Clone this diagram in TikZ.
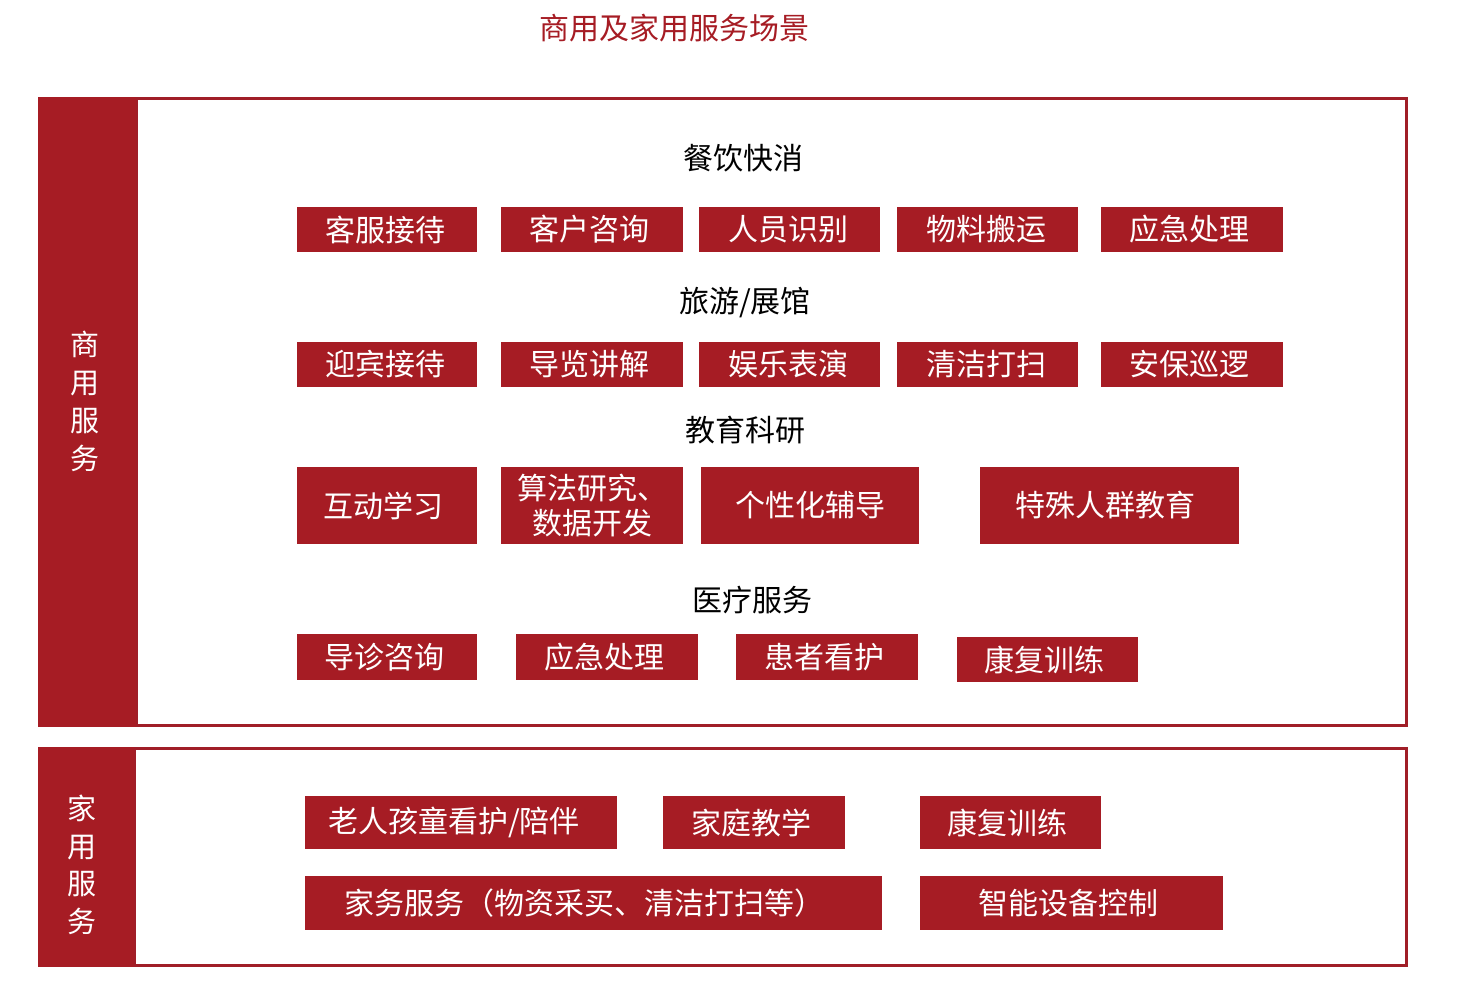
\documentclass[tikz,border=0pt]{standalone}
\usepackage{fontspec}
\setmainfont{Noto Sans CJK SC}
\definecolor{cr}{RGB}{166,28,36}
\definecolor{frm}{RGB}{160,30,40}
\newcommand\fsz{\fontsize{30}{35}\selectfont}
\begin{document}
\begin{tikzpicture}[x=1pt,y=-1pt,
  rbox/.style={fill=cr, text=white, inner sep=0pt, font=\fsz, align=center},
  hdr/.style={font=\fsz, text=black, inner sep=0pt},
  vlbl/.style={font=\fontsize{29}{35}\selectfont, text=white, align=center, inner sep=0pt},
  frame/.style={draw=frm, line width=3pt},
  bar/.style={fill=cr, draw=none}]
\useasboundingbox (0,0) rectangle (1472,993);
% title
\node[font=\fsz, text=cr, inner sep=0pt] (title) at (674,28) {商用及家用服务场景};
% commercial panel
\draw[frame] (136,98) rectangle (1406,725);
\fill[bar] (38,97) rectangle (136,726.5);
\node[vlbl] (lblc) at (85,401) {商\\[3pt]用\\[3pt]服\\[3pt]务};
% home panel
\draw[frame] (134,748) rectangle (1406,965);
\fill[bar] (38,746.5) rectangle (134,966.5);
\node[vlbl] (lblh) at (82,865) {家\\[2.5pt]用\\[2.5pt]服\\[2.5pt]务};
% headers
\node[hdr] (h1) at (743,158) {餐饮快消};
\node[hdr] (h2) at (745,303) {旅游/展馆};
\node[hdr] (h3) at (745,430) {教育科研};
\node[hdr] (h4) at (752,600) {医疗服务};
% row 1
\node[rbox, minimum width=180, minimum height=45] (a1) at (387,229.5) {客服接待\hspace{3pt}};
\node[rbox, minimum width=182, minimum height=45] (a2) at (592,229.5) {客户咨询\hspace{6pt}};
\node[rbox, minimum width=181, minimum height=45] (a3) at (789.5,229.5) {人员识别\hspace{3pt}};
\node[rbox, minimum width=181, minimum height=45] (a4) at (987.5,229.5) {物料搬运\hspace{3pt}};
\node[rbox, minimum width=182, minimum height=45] (a5) at (1192,229.5) {应急处理\hspace{6pt}};
% row 2
\node[rbox, minimum width=180, minimum height=45] (b1) at (387,364.5) {迎宾接待\hspace{3pt}};
\node[rbox, minimum width=182, minimum height=45] (b2) at (592,364.5) {导览讲解\hspace{6pt}};
\node[rbox, minimum width=181, minimum height=45] (b3) at (789.5,364.5) {娱乐表演\hspace{3pt}};
\node[rbox, minimum width=181, minimum height=45] (b4) at (987.5,364.5) {清洁打扫\hspace{3pt}};
\node[rbox, minimum width=182, minimum height=45] (b5) at (1192,364.5) {安保巡逻\hspace{6pt}};
% row 3
\node[rbox, minimum width=180, minimum height=77] (c1) at (387,505.5) {互动学习\hspace{8pt}};
\node[rbox, minimum width=182, minimum height=77] (c2) at (592,505.5) {算法研究、\\数据开发\hspace{10pt}};
\node[rbox, minimum width=218, minimum height=77] (c3) at (810,505.5) {个性化辅导};
\node[rbox, minimum width=259, minimum height=77] (c4) at (1109.5,505.5) {特殊人群教育\hspace{8pt}};
% row 4
\node[rbox, minimum width=180, minimum height=46] (d1) at (387,657) {导诊咨询\hspace{6pt}};
\node[rbox, minimum width=182, minimum height=46] (d2) at (607,657) {应急处理\hspace{6pt}};
\node[rbox, minimum width=182, minimum height=46] (d3) at (827,657) {患者看护\hspace{6pt}};
\node[rbox, minimum width=181, minimum height=45] (d4) at (1047.5,659.5) {康复训练\hspace{6pt}};
% home
\node[rbox, minimum width=312, minimum height=53] (e1) at (461,822.5) {老人孩童看护/陪伴\hspace{14pt}};
\node[rbox, minimum width=182, minimum height=53] (e2) at (754,822.5) {家庭教学\hspace{6pt}};
\node[rbox, minimum width=181, minimum height=53] (e3) at (1010.5,822.5) {康复训练\hspace{6pt}};
\node[rbox, minimum width=577, minimum height=54] (e4) at (593.5,903) {家务服务（物资采买、清洁打扫等）\hspace{18pt}};
\node[rbox, minimum width=303, minimum height=54] (e5) at (1071.5,903) {智能设备控制\hspace{6pt}};
\end{tikzpicture}
\end{document}
